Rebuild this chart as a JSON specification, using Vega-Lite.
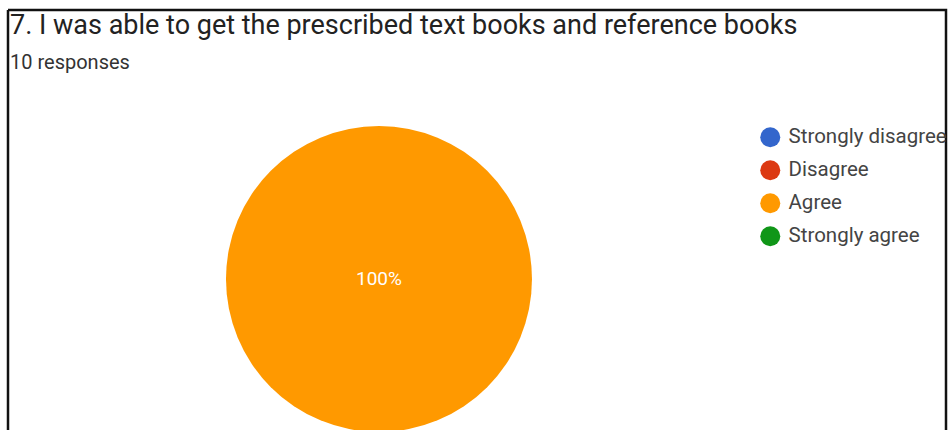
{
  "$schema": "https://vega.github.io/schema/vega-lite/v6.json",
  "width": 938,
  "height": 420,
  "autosize": "none",
  "padding": {"left": 8, "top": 10, "right": 2, "bottom": 0},
  "background": "white",
  "title": {
    "text": "7. I was able to get the prescribed text books and reference books",
    "subtitle": "10 responses",
    "anchor": "start",
    "frame": "group",
    "orient": "top",
    "offset": -64,
    "dx": 2,
    "font": "Roboto",
    "fontSize": 27,
    "fontWeight": "normal",
    "color": "#222222",
    "subtitleFont": "Roboto",
    "subtitleFontSize": 20,
    "subtitleColor": "#333333",
    "subtitlePadding": 13
  },
  "data": {
    "values": [
      {"question": "Q7", "answer": "Strongly disagree", "count": 0, "pct": "0%"},
      {"question": "Q7", "answer": "Disagree", "count": 0, "pct": "0%"},
      {"question": "Q7", "answer": "Agree", "count": 10, "pct": "100%"},
      {"question": "Q7", "answer": "Strongly agree", "count": 0, "pct": "0%"}
    ]
  },
  "encoding": {
    "x": {"field": "question", "type": "nominal", "scale": {"type": "point", "align": 0.3955}, "axis": null},
    "y": {"field": "question", "type": "nominal", "scale": {"type": "point", "align": 0.6405}, "axis": null}
  },
  "layer": [
    {
      "mark": {"type": "arc", "outerRadius": 153},
      "encoding": {
        "theta": {"field": "count", "type": "quantitative", "stack": true},
        "color": {
          "field": "answer",
          "type": "nominal",
          "sort": ["Strongly disagree", "Disagree", "Agree", "Strongly agree"],
          "scale": {
            "domain": ["Strongly disagree", "Disagree", "Agree", "Strongly agree"],
            "range": ["#3366CC", "#DC3912", "#FF9900", "#109618"]
          },
          "legend": {
            "orient": "none",
            "legendX": 752,
            "legendY": 117,
            "title": null,
            "symbolType": "circle",
            "symbolSize": 400,
            "symbolStrokeWidth": 0,
            "symbolOpacity": 1,
            "labelFont": "Roboto",
            "labelFontSize": 20.5,
            "labelColor": "#444444",
            "labelOffset": 8,
            "rowPadding": 12,
            "padding": 0
          }
        }
      }
    },
    {
      "transform": [{"filter": "datum.count > 0"}],
      "mark": {"type": "text", "color": "white", "font": "Roboto", "fontSize": 19, "align": "center", "baseline": "middle"},
      "encoding": {"text": {"field": "pct", "type": "nominal"}}
    }
  ],
  "config": {
    "view": {"stroke": "#111111", "strokeWidth": 2.5, "strokeDash": [1358, 938, 420, 0]}
  }
}
